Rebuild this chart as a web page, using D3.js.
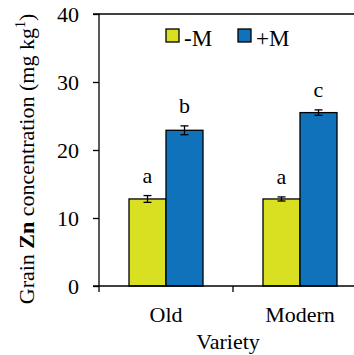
<!DOCTYPE html>
<html>
<head>
<meta charset="utf-8">
<script src="https://cdn.jsdelivr.net/npm/d3@7"></script>
<style>
  html, body { margin: 0; padding: 0; background: #fff; }
  svg { display: block; font-family: "Liberation Serif", "Times New Roman", serif; }
</style>
</head>
<body>
<svg id="chart" width="354" height="355"></svg>
<script>
// Grain Zn concentration by variety, without (-M) and with (+M) treatment
const varieties = ["Old", "Modern"];
const treatments = ["-M", "+M"];
const valuesMinus = [12.8, 12.8];
const valuesPlus = [22.9, 25.5];
const errMinus = [0.5, 0.3];
const errPlus = [0.65, 0.4];
const lettersMinus = ["a", "a"];
const lettersPlus = ["b", "c"];
const yTicks = [0, 10, 20, 30, 40];
const colors = ["#d8e021", "#1172bc"];

const FONT = "'Liberation Serif', 'Times New Roman', serif";
const svg = d3.select("#chart");
const mLeft = 99, mTop = 14, mBottom = 286, mRight = 367;

const x = d3.scaleBand().domain(varieties).range([mLeft, mRight]).padding(0);
const barW = 37;
const y = d3.scaleLinear().domain([0, 40]).range([mBottom, mTop]);

const rows = [];
varieties.forEach((v, i) => {
  rows.push({ v, t: "-M", val: valuesMinus[i], err: errMinus[i], letter: lettersMinus[i], c: colors[0], k: 0 });
  rows.push({ v, t: "+M", val: valuesPlus[i], err: errPlus[i], letter: lettersPlus[i], c: colors[1], k: 1 });
});
const bx = d => x(d.v) + x.bandwidth() / 2 - barW + d.k * barW;

// bars
svg.append("g").selectAll("rect").data(rows).join("rect")
  .attr("x", bx)
  .attr("y", d => y(d.val))
  .attr("width", barW)
  .attr("height", d => y(0) - y(d.val))
  .attr("fill", d => d.c)
  .attr("stroke", "#000")
  .attr("stroke-width", 1.3);

// error bars
const eb = svg.append("g").attr("stroke", "#000").attr("stroke-width", 1.3);
rows.forEach(d => {
  const cx = bx(d) + barW / 2;
  eb.append("line").attr("x1", cx).attr("x2", cx).attr("y1", y(d.val + d.err)).attr("y2", y(d.val - d.err));
  eb.append("line").attr("x1", cx - 4).attr("x2", cx + 4).attr("y1", y(d.val + d.err)).attr("y2", y(d.val + d.err));
  eb.append("line").attr("x1", cx - 4).attr("x2", cx + 4).attr("y1", y(d.val - d.err)).attr("y2", y(d.val - d.err));
});

// significance letters
svg.append("g").selectAll("text").data(rows).join("text")
  .attr("x", d => bx(d) + barW / 2)
  .attr("y", d => y(d.val + d.err) - 13)
  .attr("text-anchor", "middle")
  .attr("font-size", 22)
  .text(d => d.letter);

// y axis
const yAxis = svg.append("g").attr("transform", `translate(${mLeft},0)`)
  .call(d3.axisLeft(y).tickValues(yTicks).tickSize(6).tickPadding(14));
yAxis.attr("font-family", FONT);
yAxis.select(".domain").attr("stroke-width", 1.3).attr("d", `M-6,${mTop}H0V${mBottom}`);
yAxis.selectAll(".tick line").attr("stroke-width", 1.3);
yAxis.selectAll(".tick text").attr("font-size", 22).attr("fill", "#000");

// x axis
const xAxis = svg.append("g").attr("transform", `translate(0,${mBottom})`)
  .call(d3.axisBottom(x).tickSize(0).tickPadding(20));
xAxis.attr("font-family", FONT);
xAxis.select(".domain").attr("stroke-width", 1.3).attr("d", `M${mLeft - 6},0H354`);
xAxis.selectAll(".tick text").attr("font-size", 22).attr("fill", "#000");
// tick marks at band boundaries
xAxis.append("g").selectAll("line").data([mLeft, x("Modern")]).join("line")
  .attr("x1", d => d).attr("x2", d => d).attr("y1", 0).attr("y2", 6)
  .attr("stroke", "#000").attr("stroke-width", 1.3);

// top frame line
svg.append("line").attr("x1", mLeft).attr("x2", 354).attr("y1", mTop).attr("y2", mTop)
  .attr("stroke", "#000").attr("stroke-width", 1.3);

// axis titles
svg.append("text").attr("x", 228).attr("y", 349).attr("text-anchor", "middle")
  .attr("font-size", 22).text("Variety");

const yt = svg.append("text").attr("transform", "translate(34,159) rotate(-90)")
  .attr("text-anchor", "middle").attr("font-size", 22);
yt.append("tspan").text("Grain ");
yt.append("tspan").attr("font-weight", "bold").text("Zn");
yt.append("tspan").text(" concentration (mg kg");
yt.append("tspan").attr("font-size", 14).attr("dy", -9).text("1");
yt.append("tspan").attr("dy", 9).text(")");

// legend
const lg = svg.append("g");
const legX = [166, 238];
treatments.forEach((t, i) => {
  lg.append("rect").attr("x", legX[i]).attr("y", 29).attr("width", 13).attr("height", 13)
    .attr("fill", colors[i]).attr("stroke", "#000").attr("stroke-width", 1.3);
  lg.append("text").attr("x", legX[i] + 18).attr("y", 46).attr("font-size", 23).text(t);
});
</script>
</body>
</html>
